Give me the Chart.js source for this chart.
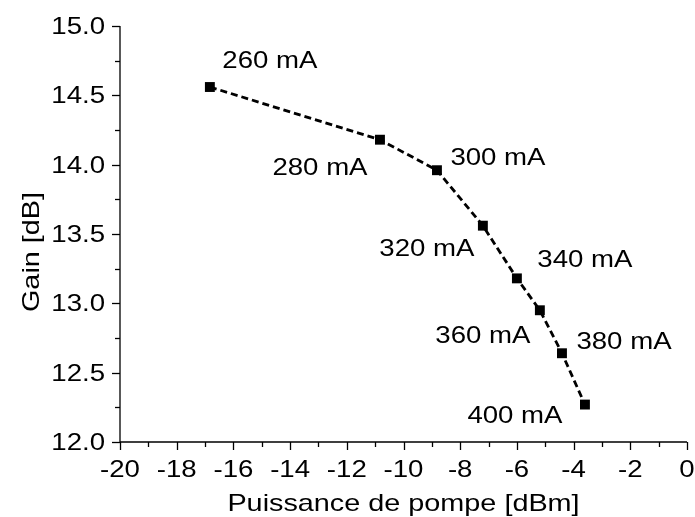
<!DOCTYPE html>
<html>
<head>
<meta charset="utf-8">
<script src="https://cdn.jsdelivr.net/npm/chart.js@4/dist/chart.umd.min.js"></script>
<style>
html,body{margin:0;padding:0;background:#fff;}
#wrap{width:695px;height:517px;position:relative;}
</style>
</head>
<body>
<div id="wrap"><canvas id="c" width="695" height="517"></canvas></div>
<script>
// Data
const pumpPower = [-16.83, -10.83, -8.82, -7.20, -6.00, -5.19, -4.41, -3.60]; // dBm
const gain = [14.56, 14.18, 13.96, 13.56, 13.18, 12.95, 12.64, 12.27];        // dB
const currentLabels = ['260 mA','280 mA','300 mA','320 mA','340 mA','360 mA','380 mA','400 mA'];
const xTickValues = [-20,-18,-16,-14,-12,-10,-8,-6,-4,-2,0];
const yTickValues = [12.0,12.5,13.0,13.5,14.0,14.5,15.0];
const xTitle = 'Puissance de pompe [dBm]';
const yTitle = 'Gain [dB]';

// label placement offsets from each point: [dx to text centre, dy to baseline] (pixels, styling only)
const labelOffsets = [[60,-19],[-60,35],[61,-5],[-56,30],[68,-11],[-57,33],[62,-4],[-70,18]];

const FONT = '"Liberation Sans", Arial, sans-serif';
const STRETCH = 1.2; // horizontal stretch of the reference's text

const points = pumpPower.map((x,i)=>({x:x,y:gain[i]}));

function stretchedText(ctx, text, x, y, align){
  ctx.save();
  ctx.translate(x, y);
  ctx.scale(STRETCH, 1);
  ctx.textAlign = align;
  ctx.fillText(text, 0, 0);
  ctx.restore();
}

const decorPlugin = {
  id:'decor',
  afterDraw(chart){
    const ctx = chart.ctx;
    const xs = chart.scales.x, ys = chart.scales.y;
    const area = chart.chartArea;
    ctx.save();
    ctx.strokeStyle = '#000';
    ctx.lineWidth = 1.3;
    ctx.beginPath();
    ctx.moveTo(area.left, area.top);
    ctx.lineTo(area.left, area.bottom);
    ctx.lineTo(area.right, area.bottom);
    ctx.stroke();
    for(let v=-20; v<=0; v+=1){
      const px = Math.round(xs.getPixelForValue(v))+0.5;
      const len = (v%2===0)?8:5;
      ctx.beginPath();
      ctx.moveTo(px, area.bottom);
      ctx.lineTo(px, area.bottom+len);
      ctx.stroke();
    }
    for(let k=0;k<=12;k++){
      const v = 12 + k*0.25;
      const py = Math.round(ys.getPixelForValue(v))+0.5;
      const len = (k%2===0)?8:5;
      ctx.beginPath();
      ctx.moveTo(area.left, py);
      ctx.lineTo(area.left-len, py);
      ctx.stroke();
    }
    ctx.fillStyle = '#000';
    ctx.textBaseline = 'alphabetic';
    ctx.font = '23px ' + FONT;
    xs.ticks.forEach(t=>{
      stretchedText(ctx, String(t.value), xs.getPixelForValue(t.value), 477, 'center');
    });
    ys.ticks.forEach(t=>{
      stretchedText(ctx, Number(t.value).toFixed(1), 105, ys.getPixelForValue(t.value)+8, 'right');
    });
    points.forEach((p,i)=>{
      const px = xs.getPixelForValue(p.x) + labelOffsets[i][0];
      const py = ys.getPixelForValue(p.y) + labelOffsets[i][1];
      stretchedText(ctx, currentLabels[i], px, py, 'center');
    });
    ctx.font = '24px ' + FONT;
    stretchedText(ctx, xTitle, (area.left+area.right)/2, 511, 'center');
    ctx.save();
    ctx.translate(39, 252);
    ctx.rotate(-Math.PI/2);
    ctx.scale(STRETCH,1);
    ctx.textAlign = 'center';
    ctx.fillText(yTitle, 0, 0);
    ctx.restore();
    ctx.restore();
  }
};

new Chart(document.getElementById('c'), {
  type:'scatter',
  data:{
    datasets:[{
      data: points,
      showLine:true,
      borderColor:'#000',
      backgroundColor:'#000',
      borderWidth:2.8,
      borderDash:[7,4],
      pointStyle:'rect',
      pointRadius:7,
      pointHoverRadius:7,
      pointBorderWidth:0,
      tension:0
    }]
  },
  options:{
    responsive:false,
    animation:false,
    events:[],
    layout:{padding:{top:26,right:8,left:0,bottom:0}},
    plugins:{legend:{display:false},tooltip:{enabled:false}},
    scales:{
      x:{
        type:'linear', min:-20, max:0,
        afterBuildTicks(scale){ scale.ticks = xTickValues.map(v=>({value:v})); },
        afterFit(scale){ scale.height = 75; },
        grid:{display:false, drawTicks:false},
        border:{display:false},
        title:{display:false, text:xTitle},
        ticks:{display:false}
      },
      y:{
        type:'linear', min:12, max:15,
        afterBuildTicks(scale){ scale.ticks = yTickValues.map(v=>({value:v})); },
        afterFit(scale){ scale.width = 120; },
        grid:{display:false, drawTicks:false},
        border:{display:false},
        title:{display:false, text:yTitle},
        ticks:{display:false}
      }
    }
  },
  plugins:[decorPlugin]
});
</script>
</body>
</html>
